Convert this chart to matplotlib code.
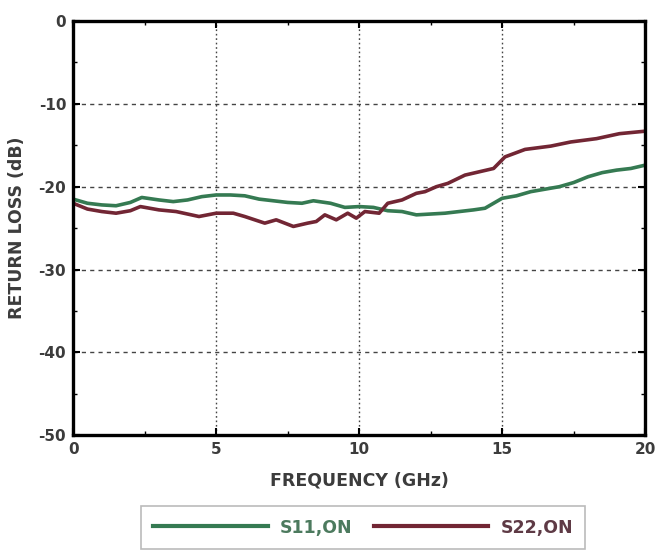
import numpy as np
import matplotlib
matplotlib.use('agg')
import matplotlib.pyplot as plt

# S11 (ON)
f_s11 = [0, 0.5, 1.0, 1.5, 2.0, 2.4, 3.0, 3.5, 4.0, 4.5, 5.0, 5.5, 6.0, 6.5,
         7.0, 7.5, 8.0, 8.4, 9.0, 9.5, 10.0, 10.5, 11.0, 11.5, 12.0, 12.5,
         13.0, 13.5, 14.0, 14.4, 15.0, 15.5, 16.0, 16.5, 17.0, 17.5, 18.0,
         18.5, 19.0, 19.5, 20.0]
s11 = [-21.5, -22.0, -22.2, -22.3, -21.9, -21.3, -21.6, -21.8, -21.6, -21.2,
       -21.0, -21.0, -21.1, -21.5, -21.7, -21.9, -22.0, -21.7, -22.0, -22.5,
       -22.4, -22.5, -22.9, -23.0, -23.4, -23.3, -23.2, -23.0, -22.8, -22.6,
       -21.4, -21.1, -20.6, -20.3, -20.0, -19.5, -18.8, -18.3, -18.0, -17.8,
       -17.4]

# S22 (ON)
f_s22 = [0, 0.5, 1.0, 1.5, 2.0, 2.35, 3.0, 3.6, 4.0, 4.4, 5.0, 5.6, 6.0, 6.7,
         7.1, 7.7, 8.2, 8.5, 8.8, 9.2, 9.6, 9.9, 10.2, 10.7, 11.0, 11.5, 12.0,
         12.3, 12.7, 13.1, 13.7, 14.2, 14.7, 15.1, 15.8, 16.7, 17.4, 18.3,
         19.1, 20.0]
s22 = [-22.0, -22.7, -23.0, -23.2, -22.9, -22.4, -22.8, -23.0, -23.3, -23.6,
       -23.2, -23.2, -23.6, -24.4, -24.0, -24.8, -24.4, -24.2, -23.4, -24.0,
       -23.2, -23.8, -23.0, -23.2, -22.0, -21.6, -20.8, -20.6, -20.0, -19.6,
       -18.6, -18.2, -17.8, -16.4, -15.5, -15.1, -14.6, -14.2, -13.6, -13.3]

xticks = [0, 5, 10, 15, 20]
yticks = [0, -10, -20, -30, -40, -50]

plt.rcParams['font.family'] = ['DejaVu Sans']
plt.rcParams['axes.unicode_minus'] = False
txt = '#3c3c3c'
green = '#357a52'
red = '#722634'

fig = plt.figure(figsize=(6.59, 5.53), dpi=100)
ax = fig.add_axes([0.111, 0.213, 0.868, 0.749])

ax.plot(f_s11, s11, color=green, lw=2.6, label='S11,ON')
ax.plot(f_s22, s22, color=red, lw=2.6, label='S22,ON')

ax.set_xlim(0, 20)
ax.set_ylim(-50, 0)
ax.set_xticks(xticks)
ax.set_yticks(yticks)
ax.set_xticks([2.5, 7.5, 12.5, 17.5], minor=True)
ax.set_yticks([-5, -15, -25, -35, -45], minor=True)
ax.tick_params(which='both', direction='in', colors='black', labelcolor=txt,
               labelsize=11, top=True, right=True)
ax.tick_params(which='major', length=5, width=1.5, pad=5)
ax.tick_params(which='minor', length=3, width=1)
for lab in ax.get_xticklabels() + ax.get_yticklabels():
    lab.set_fontweight('bold')

for y in yticks[1:-1]:
    ax.axhline(y, color='#444444', lw=1.0, ls=(0, (3, 3)), zorder=0)
for x in xticks[1:-1]:
    ax.axvline(x, color='#444444', lw=1.0, ls=(0, (1.2, 2)), zorder=0)

for s in ax.spines.values():
    s.set_linewidth(2.4)

ax.set_xlabel('FREQUENCY (GHz)', fontsize=12.5, fontweight='bold', color=txt,
              labelpad=10)
ax.set_ylabel('RETURN LOSS (dB)', fontsize=12.5, fontweight='bold', color=txt,
              labelpad=9)

leg = fig.legend(loc='upper center', bbox_to_anchor=(0.551, 0.1), ncol=2,
                 fontsize=12.5, handlelength=6.6, handletextpad=0.7,
                 columnspacing=1.2, borderpad=0.7, fancybox=False,
                 edgecolor='#bbbbbb', framealpha=1)
leg.get_frame().set_linewidth(1.2)
for t, c in zip(leg.get_texts(), ['#4c7a5e', '#5e3a45']):
    t.set_color(c)
    t.set_fontweight('bold')
for h in leg.get_lines():
    h.set_linewidth(3)

plt.savefig('out.png', dpi=100)
